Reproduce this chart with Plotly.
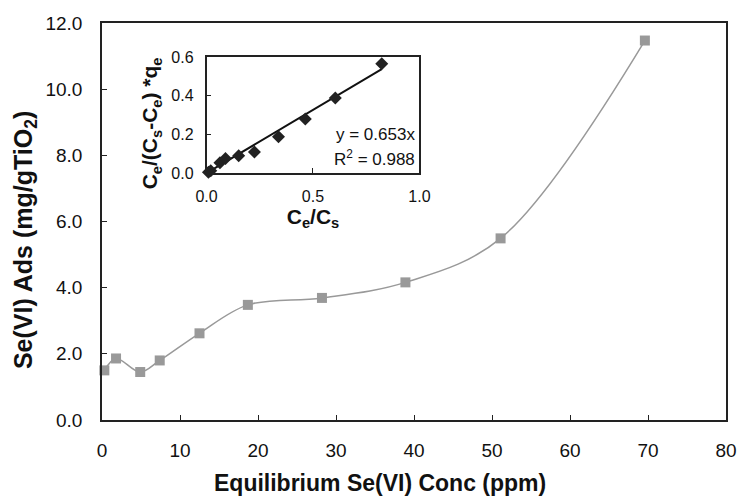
import plotly.graph_objects as go

# Main isotherm data
conc_ppm = [0.3, 1.8, 4.9, 7.4, 12.5, 18.7, 28.2, 38.9, 51.1, 69.6]
ads_mg_g = [1.50, 1.86, 1.45, 1.80, 2.62, 3.48, 3.69, 4.16, 5.49, 11.47]

# Inset linearised data (Ce/Cs vs Ce/((Cs-Ce)*qe))
ce_cs = [0.009, 0.02, 0.063, 0.089, 0.151, 0.225, 0.338, 0.464, 0.605, 0.823]
lin_y = [0.004, 0.012, 0.054, 0.076, 0.089, 0.109, 0.188, 0.280, 0.389, 0.566]
slope = 0.653
r2 = 0.988

x_ticks = [0, 10, 20, 30, 40, 50, 60, 70, 80]
y_ticks = [0, 2, 4, 6, 8, 10, 12]
inset_x_ticks = [0.0, 0.5, 1.0]
inset_y_ticks = [0.0, 0.2, 0.4, 0.6]

x_title = "<b>Equilibrium Se(VI) Conc (ppm)</b>"
y_title = "<b>Se(VI) Ads (mg/gTiO<sub>2</sub>)</b>"
inset_x_title = "<b>C<sub>e</sub>/C<sub>s</sub></b>"
inset_y_title = "<b>C<sub>e</sub>/(C<sub>s</sub>-C<sub>e</sub>) *q<sub>e</sub></b>"

FONT = "Liberation Sans"
GREY = "#999999"

fig = go.Figure()

fig.add_trace(go.Scatter(
    x=conc_ppm, y=ads_mg_g, mode="lines+markers",
    line=dict(color=GREY, width=1.5, shape="spline", smoothing=1.0),
    marker=dict(symbol="square", size=10, color=GREY),
    showlegend=False, xaxis="x", yaxis="y", cliponaxis=False,
))

fit_x = [0, ce_cs[-1]]
fit_y = [slope * v for v in fit_x]
fig.add_trace(go.Scatter(
    x=fit_x, y=fit_y, mode="lines",
    line=dict(color="#111111", width=2),
    showlegend=False, xaxis="x2", yaxis="y2",
))
fig.add_trace(go.Scatter(
    x=ce_cs, y=lin_y, mode="markers",
    marker=dict(symbol="diamond", size=10, color="#222222"),
    showlegend=False, xaxis="x2", yaxis="y2", cliponaxis=False,
))

axis_common = dict(showgrid=False, zeroline=False, showline=True,
                   linecolor="#222222", linewidth=1.5, mirror=True,
                   ticks="inside", ticklen=5, tickcolor="#222222", tickwidth=1.2)

fig.update_layout(
    width=749, height=496,
    margin=dict(l=102, r=14, t=23, b=76),
    paper_bgcolor="white", plot_bgcolor="white",
    font=dict(family=FONT, color="#111111"),
    xaxis=dict(range=[0, 80], tickvals=x_ticks, tickfont=dict(size=19), ticklabelstandoff=12,
               **axis_common),
    yaxis=dict(range=[0, 12], tickvals=y_ticks, tickformat=".1f", tickfont=dict(size=19), ticklabelstandoff=14,
               **axis_common),
    xaxis2=dict(domain=[0.1675, 0.5087], anchor="y2", range=[0, 1.0],
                tickvals=inset_x_ticks, tickformat=".1f", tickfont=dict(size=16), ticklabelstandoff=8,
                title=dict(text=inset_x_title, font=dict(size=21), standoff=2),
                **axis_common),
    yaxis2=dict(domain=[0.622, 0.914], anchor="x2", range=[0, 0.6],
                tickvals=inset_y_ticks, tickformat=".1f", tickfont=dict(size=16), ticklabelstandoff=8,
                **axis_common),
    annotations=[
        dict(text=f"y = {slope}x", xref="x2", yref="y2", x=0.99, y=0.2, xanchor="right",
             yanchor="middle", showarrow=False, font=dict(size=17)),
        dict(text=f"R<sup>2</sup> = {r2}", xref="x2", yref="y2", x=0.99, y=0.078, xanchor="right",
             yanchor="middle", showarrow=False, font=dict(size=17)),
        dict(text=x_title, xref="paper", yref="paper", x=0.4455, y=-0.1587,
             xanchor="center", yanchor="middle", showarrow=False, font=dict(size=23)),
        dict(text=y_title, xref="paper", yref="paper", x=-0.1232, y=0.4534, textangle=-90,
             xanchor="center", yanchor="middle", showarrow=False, font=dict(size=25)),
        dict(text=inset_y_title, xref="paper", yref="paper", x=0.079, y=0.748, textangle=-90,
             xanchor="center", yanchor="middle", showarrow=False, font=dict(size=21)),
    ],
)

fig.write_html("out.html")
